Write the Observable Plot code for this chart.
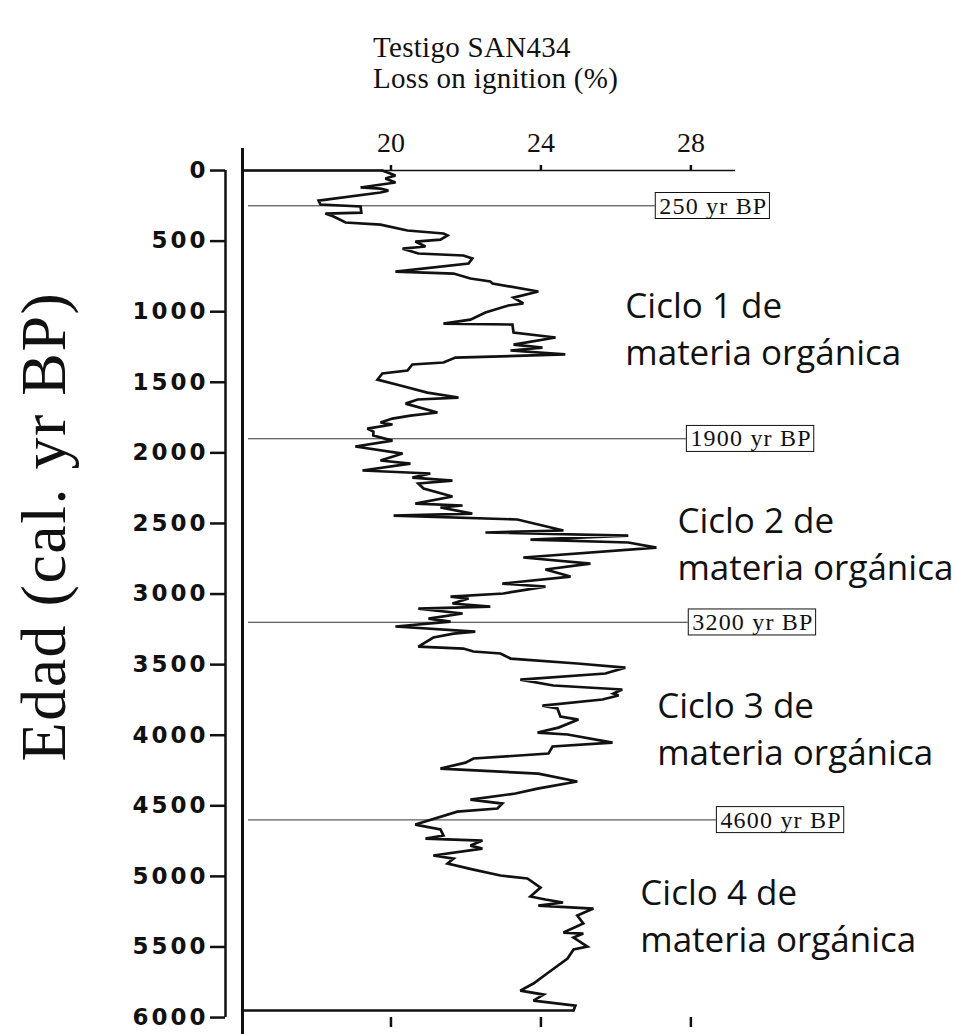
<!DOCTYPE html>
<html>
<head>
<meta charset="utf-8">
<script src="https://cdn.jsdelivr.net/npm/d3@7"></script>
<script src="https://cdn.jsdelivr.net/npm/@observablehq/plot@0.6"></script>
<style>
  body { margin: 0; background: #fff; }
  #wrap { position: relative; width: 957px; height: 1034px; }
  #wrap svg { position: absolute; left: 0; top: 0; }
  #title {
    position: absolute; left: 373px; top: 32px; z-index: 2;
    font-family: "Liberation Serif", "Times New Roman", serif;
    font-size: 29px; line-height: 31px; letter-spacing: 0.3px; color: #111;
  }
</style>
</head>
<body>
<div id="wrap">
  <div id="title">Testigo SAN434<br>Loss on ignition (%)</div>
</div>
<script>
// Core SAN434: loss on ignition (%) against calibrated age (yr BP)
const ageBP = [
  0, 35, 57, 85, 120, 128, 142, 156, 213, 241,
  255, 298, 305, 326, 368, 383, 425, 446, 460, 489,
  503, 538, 553, 588, 602, 623, 659, 716, 730, 765,
  786, 800, 857, 900, 942, 956, 1006, 1056, 1084, 1091,
  1148, 1183, 1233, 1254, 1275, 1303, 1325, 1360, 1374, 1417,
  1438, 1481, 1523, 1573, 1608, 1622, 1651, 1714, 1736, 1757,
  1785, 1799, 1828, 1849, 1877, 1913, 1955, 2005, 2054, 2076,
  2125, 2146, 2175, 2196, 2217, 2253, 2309, 2359, 2373, 2387,
  2430, 2444, 2472, 2550, 2564, 2586, 2614, 2635, 2671, 2741,
  2784, 2826, 2876, 2926, 2947, 2996, 3018, 3032, 3067, 3089,
  3103, 3138, 3174, 3195, 3230, 3266, 3280, 3308, 3372, 3386,
  3407, 3421, 3457, 3492, 3521, 3563, 3606, 3648, 3676, 3705,
  3719, 3747, 3790, 3811, 3868, 3889, 3946, 3981, 3995, 4052,
  4080, 4130, 4165, 4194, 4236, 4272, 4328, 4378, 4413, 4456,
  4484, 4519, 4541, 4633, 4668, 4711, 4732, 4746, 4782, 4803,
  4852, 4874, 4909, 4952, 4994, 5015, 5079, 5143, 5164, 5185,
  5207, 5228, 5277, 5334, 5398, 5405, 5433, 5497, 5518, 5582,
  5681, 5759, 5809, 5837, 5880, 5915, 5950
];
const loi = [
  19.77, 20.12, 19.85, 20.12, 19.19, 19.72, 19.93, 19.72, 18.07, 18.12,
  19.19, 19.21, 18.25, 18.47, 18.79, 19.72, 20.44, 21.40, 21.51, 21.32,
  20.65, 20.92, 20.31, 20.73, 21.93, 22.17, 22.07, 20.12, 21.67, 22.12,
  22.65, 22.71, 23.93, 23.27, 23.53, 23.13, 22.52, 22.12, 21.40, 23.24,
  23.27, 24.39, 23.27, 24.04, 23.19, 24.65, 21.72, 21.40, 20.57, 20.44,
  19.77, 19.64, 20.25, 20.97, 21.80, 20.71, 20.39, 21.24, 20.52, 20.04,
  19.72, 20.04, 19.37, 19.53, 19.53, 20.04, 19.05, 20.31, 19.72, 20.52,
  19.24, 21.05, 20.57, 21.64, 20.73, 20.87, 21.64, 20.65, 21.91, 21.32,
  22.17, 20.07, 23.37, 24.60, 22.52, 26.33, 23.72, 26.33, 27.08, 23.53,
  25.32, 24.12, 24.79, 22.97, 24.12, 23.00, 21.59, 22.07, 21.64, 22.65,
  20.73, 21.91, 21.00, 21.59, 20.12, 22.25, 21.67, 21.13, 20.73, 21.93,
  22.20, 22.92, 23.19, 24.97, 26.25, 25.72, 23.45, 24.33, 26.17, 25.93,
  26.07, 25.64, 24.04, 24.44, 24.52, 25.00, 24.47, 23.91, 24.71, 25.91,
  24.31, 24.20, 22.20, 21.99, 21.32, 23.93, 24.97, 23.91, 23.32, 22.12,
  22.97, 22.84, 21.77, 20.65, 21.32, 21.40, 20.92, 22.44, 22.12, 22.44,
  21.13, 21.67, 21.51, 22.20, 22.92, 23.64, 23.99, 23.72, 24.12, 24.59,
  23.93, 25.40, 24.97, 25.13, 24.60, 25.13, 24.87, 25.24, 24.87, 24.71,
  24.20, 23.80, 23.45, 24.07, 23.80, 24.92, 24.87
];

// Axes
const ageTicks = d3.range(0, 6001, 500);
const loiTicks = [20, 24, 28];
const loiDomain = [16.04, 29.19];
const ageDomain = [-156, 6120];

// Boundaries between organic-matter cycles
const boundaryAges = [250, 1900, 3200, 4600];
const boundaryLabels = ["250 yr BP", "1900 yr BP", "3200 yr BP", "4600 yr BP"];
const boundaryReach = [27.05, 27.88, 27.93, 28.68];

// Cycle annotations
const cycleLabels = [
  "Ciclo 1 de\nmateria orgánica",
  "Ciclo 2 de\nmateria orgánica",
  "Ciclo 3 de\nmateria orgánica",
  "Ciclo 4 de\nmateria orgánica"
];
const cycleAges = [1105, 2628, 3938, 5263];
const cycleLoi = [26.25, 27.64, 27.10, 26.65];

const serif = "'Liberation Serif', 'Times New Roman', serif";
const curve = ageBP.map((age, i) => ({age, loi: loi[i]}));
const first = curve[0];
const last = curve[curve.length - 1];
const boundaries = boundaryAges.map((age, i) => ({age, label: boundaryLabels[i], reach: boundaryReach[i]}));
const cycles = cycleLabels.map((label, i) => ({label, age: cycleAges[i], loi: cycleLoi[i]}));

const svg = Plot.plot({
  width: 957,
  height: 1034,
  marginLeft: 242,
  marginRight: 222,
  marginTop: 148,
  marginBottom: 0,
  x: {domain: loiDomain},
  y: {domain: ageDomain, reverse: true},
  style: {background: "transparent", color: "#111", fontFamily: serif, overflow: "visible"},
  marks: [
    // top LOI axis sitting on the zero-age line
    Plot.axisX({anchor: "top", ticks: loiTicks, tickSize: 6, tickPadding: 13, dy: 22,
      fontSize: 28, fontFamily: serif, strokeWidth: 2.5, label: null}),
    // bare tick marks under the profile
    Plot.axisX({anchor: "bottom", ticks: loiTicks, tickSize: 10, dy: -17,
      tickFormat: () => "", strokeWidth: 2.5, label: null}),
    // age axis, set slightly left of the profile frame
    Plot.axisY({anchor: "left", ticks: ageTicks, tickSize: 15, tickPadding: 2, dx: -17,
      tickFormat: d => `${d}`, fontSize: 23, fontWeight: "bold",
      fontFamily: "'DejaVu Sans', sans-serif", strokeWidth: 2.5, label: null}),
    Plot.ruleX([loiDomain[0]], {y1: ageTicks[0], y2: ageTicks[ageTicks.length - 1], dx: -17, strokeWidth: 2.5}),
    // profile frame
    Plot.ruleX([loiDomain[0]], {strokeWidth: 3}),
    Plot.ruleY([0], {strokeWidth: 1.5}),
    Plot.ruleY([first], {y: "age", x1: loiDomain[0], x2: "loi", strokeWidth: 2.5}),
    Plot.ruleY([last], {y: "age", x1: loiDomain[0], x2: "loi", strokeWidth: 2.5}),
    // cycle boundaries
    Plot.ruleY(boundaries, {y: "age", x1: loiDomain[0], x2: "reach", stroke: "#333", strokeWidth: 1, insetLeft: 6}),
    Plot.text(boundaries, {x: "reach", y: "age", text: "label", textAnchor: "start", dx: 4,
      fontSize: 24, fontFamily: serif, fill: "#111"}),
    // LOI profile
    Plot.line(curve, {x: "loi", y: "age", stroke: "#111", strokeWidth: 2.7,
      strokeLinejoin: "miter", strokeMiterlimit: 3}),
    // cycle names
    Plot.text(cycles, {x: "loi", y: "age", text: "label", textAnchor: "start", lineAnchor: "middle",
      lineHeight: 1.34, fontSize: 35, fontFamily: "'Open Sans', sans-serif", fill: "#111"}),
    // age axis title
    Plot.text(["Edad (cal. yr BP)"], {text: d => d, frameAnchor: "left", rotate: -90,
      textAnchor: "middle", lineAnchor: "bottom", dx: -178, dy: -65,
      fontSize: 64, fontFamily: serif, fill: "#111"})
  ]
});

document.getElementById("wrap").appendChild(svg);

// wider spacing on the age tick labels and the axis title
d3.select(svg).selectAll('g[aria-label="y-axis tick label"] text').style("letter-spacing", "3px");
d3.select(svg).selectAll("text")
  .filter(function () { return this.textContent === "Edad (cal. yr BP)"; })
  .style("letter-spacing", "1.5px");

// framed boundary labels
d3.select(svg).selectAll("text")
  .filter(function () { return boundaryLabels.includes(this.textContent); })
  .style("letter-spacing", "1.2px")
  .each(function () {
    const b = this.getBBox();
    const r = document.createElementNS("http://www.w3.org/2000/svg", "rect");
    r.setAttribute("x", b.x - 4);
    r.setAttribute("y", b.y);
    r.setAttribute("width", b.width + 6);
    r.setAttribute("height", b.height);
    r.setAttribute("fill", "#fff");
    r.setAttribute("stroke", "#111");
    r.setAttribute("stroke-width", "1");
    const t = this.getAttribute("transform");
    if (t) r.setAttribute("transform", t);
    this.parentNode.insertBefore(r, this);
  });
</script>
</body>
</html>
